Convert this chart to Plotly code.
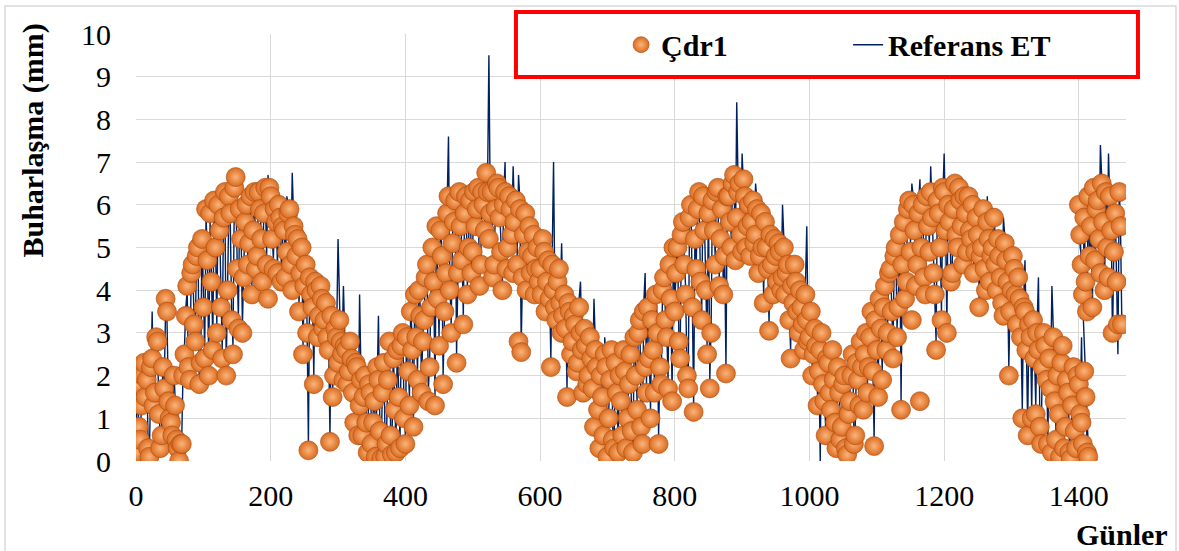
import plotly.graph_objects as go

# ---- data ----
# daily series sampled every 2 days: "a" values on days 0,4,8,... and "b" values on days 2,6,10,...
days_a = list(range(0, 1416, 4))
days_b = list(range(2, 1416, 4))
days_extra = list(range(1400, 1466, 2))

cdr1_a = [
    0.2, 0.8, 1.3, 2.3, 1.9, 0.1, 2.4, 1.6, 2.8, 0.3,
    2.2, 3.8, 1.4, 0.9, 2.0, 0.5, 0.0, 0.4, 2.5, 4.1,
    1.9, 4.6, 2.8, 5.0, 2.3, 3.6, 5.9, 2.0, 4.2, 6.1,
    3.0, 5.4, 2.4, 6.3, 4.0, 5.8, 2.5, 6.65, 3.1, 5.2,
    4.3, 6.0, 5.1, 3.9, 6.3, 4.8, 5.9, 4.2, 6.4, 3.8,
    6.2, 4.5, 5.6, 6.0, 4.2, 5.4, 4.9, 5.9, 4.0, 5.3,
    5.2, 4.4, 2.5, 4.6, 0.25, 3.9, 1.8, 4.0, 3.4, 3.8,
    3.3, 2.9, 0.45, 1.5, 3.1, 2.3, 2.8, 1.9, 2.6, 2.1,
    2.4, 0.9, 2.2, 1.3, 0.6, 2.0, 0.2, 1.6, 0.9, 0.1,
    1.9, 0.05, 2.3, 0.4, 2.8, 0.15, 1.2, 2.6, 0.3, 3.0,
    0.4, 2.1, 3.5, 0.8, 2.9, 4.0, 1.6, 3.3, 4.6, 2.2,
    5.0, 1.3, 3.8, 5.4, 1.8, 4.4, 6.2, 3.0, 5.6, 2.3,
    6.3, 4.7, 5.8, 3.9, 6.1, 4.9, 5.5, 6.4, 4.6, 6.0,
    6.75, 5.2, 6.3, 4.6, 6.5, 5.7, 4.0, 6.3, 5.0, 5.9,
    4.4, 6.1, 2.8, 2.55, 5.3, 4.0, 5.5, 4.8, 3.9, 5.0,
    4.5, 5.2, 3.5, 4.7, 2.2, 4.0, 3.3, 4.5, 3.0, 3.9,
    1.5, 3.5, 2.8, 3.2, 2.3, 3.0, 1.6, 2.7, 2.0, 2.4,
    0.8, 2.2, 0.3, 1.5, 2.5, 0.1, 1.9, 0.5, 2.3, 0.2,
    1.4, 2.6, 0.3, 1.8, 0.7, 2.9, 1.2, 3.3, 0.4, 2.2,
    3.6, 1.0, 2.6, 3.9, 0.4, 1.8, 4.3, 2.9, 4.6, 1.4,
    3.5, 5.0, 2.4, 5.6, 3.9, 1.7, 6.0, 1.15, 4.5, 6.3,
    3.3, 5.4, 2.5, 1.7, 6.1, 4.6, 6.4, 5.2, 3.9, 2.05,
    6.2, 5.0, 6.7, 5.7, 6.5, 4.9, 6.2, 5.5, 4.8, 6.1,
    5.3, 4.4, 5.8, 3.7, 5.0, 3.05, 4.6, 5.2, 4.2, 4.9,
    4.3, 3.9, 4.6, 2.4, 3.7, 4.2, 3.0, 3.6, 2.6, 3.3,
    2.9, 2.0, 3.1, 1.3, 2.6, 1.8, 0.6, 2.3, 1.2, 1.9,
    0.3, 1.6, 0.8, 2.0, 0.15, 1.4, 2.5, 0.6, 1.9, 2.8,
    1.2, 3.0, 2.2, 3.5, 0.35, 2.6, 3.8, 1.9, 4.1, 3.0,
    4.5, 2.4, 5.0, 3.6, 1.2, 5.6, 4.2, 6.1, 3.3, 5.4,
    4.6, 1.4, 6.0, 3.9, 5.5, 6.3, 4.4, 2.6, 5.8, 3.3,
    6.3, 3.0, 5.6, 4.4, 6.5, 5.0, 6.1, 4.6, 5.8, 6.2,
    5.2, 4.4, 5.7, 3.6, 5.0, 4.5, 5.6, 4.2, 5.0, 4.6,
    5.2, 4.3, 3.4, 4.7, 2.0, 4.0, 4.5, 3.2, 3.8, 1.0,
    3.5, 0.6, 2.9, 3.3, 1.1, 2.6, 0.4, 3.0, 1.9, 2.4,
    0.2, 1.4, 2.0, 0.1, 2.7, 0.8, 1.6, 0.05, 2.2, 0.3,
    1.8, 0.9, 2.1, 0.2,
]
cdr1_b = [
    1.8, 0.5, 2.0, 1.5, 0.3, 2.2, 1.3, 2.9, 1.1, 0.6,
    1.7, 3.5, 1.0, 0.6, 1.3, 0.3, 0.4, 2.0, 3.4, 2.2,
    4.4, 3.2, 4.8, 1.8, 5.2, 2.4, 4.7, 5.8, 2.6, 5.0,
    6.0, 3.6, 5.7, 2.0, 6.2, 3.3, 6.4, 4.5, 5.9, 3.0,
    5.6, 4.6, 6.2, 5.4, 4.5, 6.3, 5.2, 5.8, 4.6, 6.4,
    5.2, 5.9, 4.4, 5.7, 5.5, 4.3, 5.8, 4.6, 5.5, 4.8,
    3.5, 5.0, 4.1, 3.0, 4.3, 3.6, 4.2, 2.9, 4.1, 3.1,
    3.7, 2.6, 3.4, 2.0, 2.9, 3.3, 2.5, 2.7, 1.8, 2.8,
    1.6, 2.3, 0.6, 1.9, 1.5, 0.9, 1.8, 0.4, 1.4, 2.2,
    0.7, 1.6, 0.1, 1.9, 0.6, 2.4, 0.2, 1.5, 2.7, 1.0,
    2.9, 1.3, 2.6, 3.9, 1.9, 3.4, 2.8, 4.3, 1.4, 3.6,
    4.2, 5.5, 2.7, 4.8, 3.5, 5.8, 4.0, 5.1, 6.1, 4.4,
    5.5, 3.2, 6.2, 5.0, 4.4, 6.3, 5.9, 4.1, 6.3, 5.4,
    6.3, 5.8, 4.3, 5.9, 6.4, 4.9, 6.0, 4.5, 6.2, 5.3,
    5.6, 4.6, 5.9, 4.3, 5.8, 4.9, 4.4, 5.3, 4.5, 4.2,
    3.9, 4.9, 4.2, 3.8, 4.6, 3.6, 4.2, 3.7, 3.4, 3.1,
    3.7, 2.5, 3.4, 2.1, 3.6, 2.6, 3.1, 1.8, 2.9, 1.7,
    2.6, 1.2, 2.0, 0.6, 2.2, 1.0, 2.6, 0.3, 1.6, 2.0,
    0.6, 2.1, 1.0, 2.5, 0.2, 2.0, 3.0, 0.8, 3.5, 1.6,
    2.4, 3.3, 1.6, 3.0, 2.2, 4.0, 3.3, 1.7, 3.8, 5.0,
    4.4, 2.8, 5.3, 4.6, 2.0, 5.7, 3.6, 5.2, 5.9, 4.2,
    6.2, 4.0, 5.8, 3.0, 5.4, 6.3, 4.1, 5.9, 4.8, 6.2,
    5.6, 6.5, 4.7, 6.3, 5.3, 6.6, 5.0, 6.0, 5.6, 5.1,
    5.9, 4.8, 5.0, 5.6, 4.5, 5.3, 3.9, 4.8, 5.1, 4.0,
    5.0, 4.4, 3.3, 4.1, 4.6, 3.5, 4.0, 3.2, 3.9, 2.8,
    3.5, 2.5, 2.7, 2.1, 3.0, 1.4, 2.4, 1.6, 2.6, 0.9,
    2.2, 0.5, 1.8, 0.3, 1.1, 2.0, 0.4, 2.3, 1.3, 2.2,
    2.5, 1.6, 2.9, 2.1, 3.3, 1.5, 3.1, 3.6, 2.6, 4.4,
    3.5, 4.8, 2.9, 5.3, 4.6, 3.8, 5.9, 4.9, 6.0, 4.1,
    5.8, 5.0, 4.3, 6.2, 4.9, 5.7, 3.9, 6.1, 5.0, 6.4,
    5.4, 6.0, 4.2, 5.9, 5.3, 6.4, 5.5, 6.2, 4.9, 5.4,
    6.0, 4.9, 5.3, 4.8, 5.9, 4.0, 5.2, 4.8, 5.7, 4.0,
    4.8, 3.7, 5.1, 4.2, 3.5, 4.8, 3.9, 4.3, 2.9, 3.6,
    2.6, 3.2, 1.0, 2.4, 3.0, 0.8, 2.2, 2.7, 0.4, 1.7,
    2.9, 0.5, 1.1, 2.3, 0.3, 1.9, 0.2, 1.3, 0.7, 2.0,
    1.1, 0.4, 1.5, 0.1,
]

ref_et_a = [
    0.3, 0.9, 1.2, 2.1, 2.0, 0.3, 3.5, 1.8, 2.6, 0.5,
    2.4, 3.6, 1.6, 1.1, 2.2, 0.7, 0.1, 0.6, 2.7, 4.0,
    1.7, 4.8, 3.0, 5.2, 2.1, 3.8, 5.7, 2.2, 4.4, 5.9,
    3.2, 5.6, 2.6, 6.1, 4.2, 5.6, 2.7, 6.4, 3.3, 5.4,
    4.5, 6.2, 5.3, 4.1, 6.1, 5.0, 6.1, 4.4, 6.2, 6.7,
    6.6, 4.7, 5.8, 5.8, 4.4, 5.6, 6.2, 5.7, 6.75, 5.5,
    5.0, 4.6, 2.7, 4.8, 0.4, 4.1, 2.0, 4.2, 3.6, 3.6,
    3.5, 3.1, 0.6, 1.7, 3.3, 5.2, 2.6, 4.1, 2.8, 2.3,
    2.6, 1.1, 2.0, 3.9, 0.8, 2.2, 0.3, 1.8, 1.1, 0.2,
    3.4, 0.2, 2.5, 0.6, 3.0, 0.3, 1.4, 2.8, 0.5, 3.2,
    0.6, 2.3, 3.7, 1.0, 3.1, 4.2, 1.8, 3.5, 4.8, 2.4,
    5.2, 1.5, 4.0, 5.6, 2.0, 4.6, 7.6, 3.2, 5.8, 2.5,
    6.1, 4.9, 6.0, 4.1, 6.3, 5.1, 5.7, 6.2, 4.8, 6.2,
    6.5, 9.5, 6.5, 4.8, 6.3, 5.9, 4.2, 7.0, 5.2, 6.1,
    6.9, 6.3, 6.7, 2.7, 5.5, 4.2, 5.7, 5.0, 4.1, 5.2,
    4.7, 5.4, 3.7, 4.9, 2.4, 7.0, 3.5, 4.7, 5.1, 4.1,
    1.7, 3.7, 3.0, 3.4, 2.5, 4.2, 1.8, 2.9, 2.2, 2.6,
    3.8, 2.4, 0.5, 1.7, 2.9, 0.2, 2.1, 0.7, 2.5, 0.4,
    1.6, 2.8, 0.5, 2.0, 0.9, 3.1, 1.4, 3.5, 0.6, 4.4,
    3.8, 1.2, 2.8, 4.1, 0.6, 2.0, 4.5, 3.1, 4.8, 1.6,
    3.7, 5.2, 2.6, 5.8, 4.1, 1.9, 6.2, 1.3, 4.7, 6.1,
    3.5, 5.6, 2.7, 1.9, 6.3, 4.8, 6.2, 5.4, 4.1, 2.2,
    6.4, 5.2, 6.5, 8.4, 6.3, 7.2, 6.4, 5.7, 5.0, 6.3,
    6.5, 4.6, 5.6, 3.9, 5.2, 3.2, 4.8, 5.4, 4.4, 5.1,
    6.0, 4.1, 4.8, 2.6, 3.9, 4.4, 3.2, 3.8, 2.8, 5.5,
    3.1, 2.2, 3.3, 1.5, 0.0, 2.0, 0.8, 2.5, 1.4, 2.1,
    0.5, 1.8, 1.0, 2.2, 0.3, 1.6, 2.7, 0.8, 2.1, 3.0,
    1.4, 3.2, 2.4, 3.7, 0.5, 2.8, 4.0, 2.1, 4.3, 3.2,
    4.7, 2.6, 5.2, 3.8, 1.4, 5.8, 4.4, 6.3, 6.5, 5.6,
    4.8, 6.6, 6.2, 4.1, 5.7, 6.9, 4.6, 2.8, 6.0, 3.5,
    7.2, 3.2, 5.8, 4.6, 6.3, 5.2, 6.3, 4.8, 6.0, 6.0,
    5.4, 4.6, 5.9, 3.8, 5.2, 4.7, 6.2, 4.4, 5.2, 4.8,
    5.0, 4.5, 5.7, 4.9, 2.2, 4.2, 4.7, 3.4, 4.0, 1.2,
    4.7, 0.8, 3.1, 3.5, 1.3, 4.3, 0.6, 3.2, 2.1, 2.6,
    4.1, 1.6, 2.2, 0.3, 2.9, 1.0, 1.8, 0.2, 2.4, 0.5,
    2.0, 2.9, 1.9, 0.4,
]
ref_et_b = [
    1.9, 0.6, 2.2, 1.3, 0.5, 2.4, 1.5, 2.7, 1.3, 0.8,
    1.9, 3.3, 1.2, 0.8, 1.5, 0.5, 0.6, 2.2, 3.6, 2.0,
    4.6, 3.4, 5.0, 1.6, 5.4, 2.6, 4.9, 5.6, 2.8, 5.2,
    6.2, 3.8, 5.9, 2.2, 6.0, 3.5, 6.2, 4.7, 6.1, 3.2,
    5.8, 4.8, 6.0, 5.6, 4.7, 6.1, 5.4, 6.0, 4.8, 6.2,
    5.4, 6.1, 4.6, 5.9, 5.3, 4.5, 6.0, 4.8, 5.7, 5.0,
    3.7, 5.2, 4.3, 3.2, 4.5, 3.8, 4.4, 3.1, 4.3, 3.3,
    3.9, 2.8, 3.6, 2.2, 3.1, 3.5, 2.7, 2.9, 2.0, 3.0,
    1.8, 2.5, 0.8, 2.1, 1.7, 1.1, 2.0, 0.6, 1.6, 2.4,
    0.9, 1.8, 0.3, 2.1, 0.8, 2.6, 0.4, 1.7, 2.9, 1.2,
    3.1, 1.5, 2.8, 4.1, 2.1, 3.6, 3.0, 4.5, 1.6, 3.8,
    4.4, 5.7, 2.9, 5.0, 3.7, 6.0, 4.2, 5.3, 6.3, 4.6,
    5.7, 3.4, 6.4, 5.2, 4.6, 6.1, 6.1, 4.3, 6.5, 5.6,
    6.5, 6.0, 4.5, 6.1, 6.2, 5.1, 6.2, 4.7, 6.4, 5.5,
    5.8, 4.8, 6.1, 4.5, 6.0, 5.1, 4.6, 5.5, 4.7, 4.4,
    4.1, 5.1, 4.4, 4.0, 4.8, 3.8, 4.4, 3.9, 3.6, 3.3,
    3.9, 2.7, 3.6, 2.3, 3.8, 2.8, 3.3, 2.0, 3.1, 1.9,
    2.8, 1.4, 2.2, 0.8, 2.4, 1.2, 2.8, 0.5, 1.8, 2.2,
    0.8, 2.3, 1.2, 2.7, 0.4, 2.2, 3.2, 1.0, 3.7, 1.8,
    2.6, 3.5, 1.8, 3.2, 2.4, 4.2, 3.5, 1.9, 4.0, 5.2,
    4.6, 3.0, 5.5, 4.8, 2.2, 5.9, 3.8, 5.4, 6.1, 4.4,
    6.4, 4.2, 6.0, 3.2, 5.6, 6.5, 4.3, 6.1, 5.0, 6.4,
    5.8, 6.7, 4.9, 6.5, 5.5, 6.4, 5.2, 6.2, 5.8, 5.3,
    6.1, 5.0, 5.2, 5.8, 4.7, 5.5, 4.1, 5.0, 5.3, 4.2,
    5.2, 4.6, 3.5, 4.3, 4.8, 3.7, 4.2, 3.4, 4.1, 3.0,
    3.7, 2.7, 2.9, 2.3, 3.2, 1.6, 2.6, 1.8, 2.8, 1.1,
    2.4, 0.7, 2.0, 0.5, 1.3, 2.2, 0.6, 2.5, 1.5, 2.4,
    2.7, 1.8, 3.1, 2.3, 3.5, 1.7, 3.3, 3.8, 2.8, 4.6,
    3.7, 5.0, 3.1, 5.5, 4.8, 4.0, 6.1, 5.1, 6.2, 4.3,
    6.0, 5.2, 4.5, 6.4, 5.1, 5.9, 4.1, 6.3, 5.2, 6.2,
    5.6, 6.2, 4.4, 6.1, 5.5, 6.2, 5.7, 6.4, 5.1, 5.6,
    6.2, 5.1, 5.5, 5.0, 6.1, 4.2, 5.4, 5.0, 5.9, 4.2,
    5.0, 3.9, 5.3, 4.4, 3.7, 5.0, 4.1, 4.5, 3.1, 3.8,
    2.8, 3.4, 1.2, 2.6, 3.2, 1.0, 2.4, 2.9, 0.6, 1.9,
    3.1, 0.7, 1.3, 2.5, 0.5, 2.1, 0.4, 1.5, 0.9, 2.2,
    1.3, 0.6, 1.7, 0.3,
]

cdr1_extra = [
    6.0, 5.3, 4.6, 3.9, 5.7, 4.2, 3.5, 6.2, 4.8, 5.5,
    3.6, 6.4, 4.7, 5.9, 6.1, 5.2, 4.4, 6.5, 5.6, 4.0,
    6.3, 5.0, 4.3, 6.2, 5.4, 3.0, 4.9, 5.8, 4.2, 3.2,
    6.3, 5.5, 3.2,
]
ref_et_extra = [
    6.1, 5.0, 4.8, 3.6, 5.9, 4.0, 3.3, 6.4, 4.6, 5.7,
    3.4, 6.6, 4.5, 6.0, 6.3, 5.0, 7.4, 6.3, 5.8, 3.8,
    6.5, 4.8, 7.2, 6.0, 5.6, 2.8, 5.1, 6.0, 4.0, 2.5,
    6.5, 5.3, 3.0,
]

x_ticks = [0, 200, 400, 600, 800, 1000, 1200, 1400]
y_ticks = list(range(0, 11))

# merge the two interleaved samplings in day order, then append the final block
main = sorted(zip(days_a + days_b, cdr1_a + cdr1_b, ref_et_a + ref_et_b))
days = [m[0] for m in main] + days_extra
cdr1 = [m[1] for m in main] + cdr1_extra
ref_et = [m[2] for m in main] + ref_et_extra

FONT = "Liberation Serif"

fig = go.Figure()
fig.add_trace(go.Scatter(
    x=days, y=ref_et, mode="lines", name="Referans ET",
    line=dict(color="#002060", width=1.4), legendrank=2,
))
fig.add_trace(go.Scatter(
    x=days, y=cdr1, mode="markers", name="Çdr1",
    marker=dict(size=19, color="#DA6B20",
                gradient=dict(type="radial", color="#FBB47A"),
                line=dict(color="#A9490F", width=0.6)),
    legendrank=1,
))

# plot area in px: x 136..1126, y 34..461
fig.update_layout(
    width=1179, height=551,
    margin=dict(l=136, r=53, t=34, b=90),
    paper_bgcolor="white", plot_bgcolor="white",
    font=dict(family=FONT, size=30, color="black"),
    showlegend=True,
    legend=dict(
        orientation="h", x=0.49, y=0.975, xanchor="left", yanchor="middle",
        bgcolor="rgba(0,0,0,0)", borderwidth=0,
        font=dict(family=FONT, size=30, color="black", weight="bold"),
        entrywidth=182, traceorder="normal",
    ),
    xaxis=dict(
        range=[0, 1470], tickvals=x_ticks, showgrid=True,
        gridcolor="#D9D9D9", gridwidth=1.3, zeroline=False,
        showline=False, ticks="", ticklabelstandoff=14,
        tickfont=dict(family=FONT, size=30),
    ),
    yaxis=dict(
        range=[0, 10], tickvals=y_ticks, showgrid=True,
        gridcolor="#D9D9D9", gridwidth=1.3, zeroline=False,
        showline=False, ticks="", ticklabelstandoff=24,
        tickfont=dict(family=FONT, size=30),
    ),
    shapes=[
        dict(type="rect", xref="paper", yref="paper",
             x0=-0.1323, x1=1.0505, y0=-0.23, y1=1.0656,
             line=dict(color="#D9D9D9", width=1.5), fillcolor="rgba(0,0,0,0)",
             layer="below"),
        dict(type="rect", xref="paper", yref="paper",
             x0=0.3838, x1=1.0121, y0=0.8993, y1=1.0515,
             line=dict(color="#FF0000", width=4), fillcolor="white",
             layer="above"),
    ],
    annotations=[
        dict(text="<b>Buharlaşma (mm)</b>", xref="paper", yref="paper",
             x=-0.104, y=0.7506, textangle=-90, showarrow=False,
             xanchor="center", yanchor="middle",
             font=dict(family=FONT, size=30, color="black")),
        dict(text="<b>Günler</b>", xref="paper", yref="paper",
             x=0.9957, y=-0.173, showarrow=False,
             xanchor="center", yanchor="middle",
             font=dict(family=FONT, size=30, color="black")),
    ],
)

fig.write_html("out.html")
